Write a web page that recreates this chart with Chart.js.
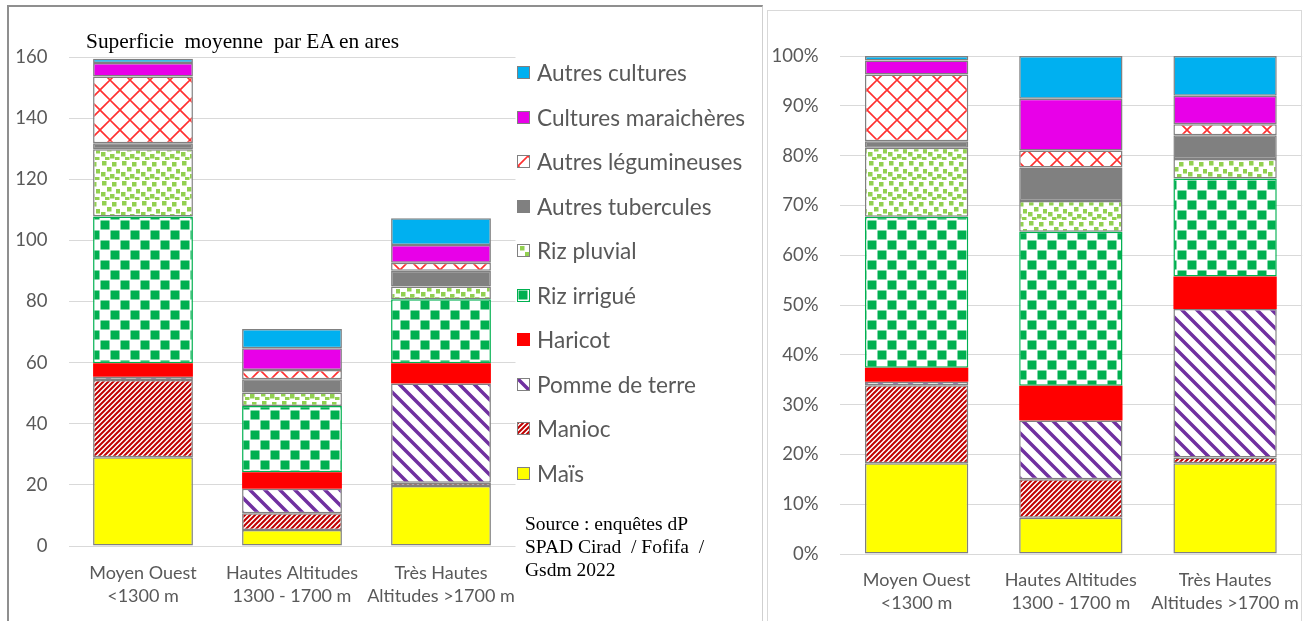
<!DOCTYPE html>
<html lang="fr">
<head>
<meta charset="UTF-8">
<title>Superficie moyenne par EA</title>
<script src="https://cdn.jsdelivr.net/npm/chart.js"></script>
<style>
  body { margin: 0; width: 1304px; height: 621px; overflow: hidden; background: #fff; position: relative; font-family: Lato, sans-serif; }
  .panel { position: absolute; box-sizing: border-box; }
  #panelLeft { left: 7px; top: 5px; width: 756px; height: 640px; border-left: 2px solid #8f8f8f; border-top: 2px solid #8f8f8f; border-right: 1px solid #d0d0d0; }
  #panelRight { left: 767px; top: 10px; width: 535px; height: 640px; border: 1px solid #d9d9d9; }
  canvas { position: absolute; top: 0; }
  #leftChart { left: 0; }
  #rightChart { left: 767px; }
  .note { position: absolute; font-family: 'Liberation Serif', serif; color: #000; white-space: pre; }
  #title { left: 86px; top: 30.5px; font-size: 21.4px; line-height: 21px; }
  #source { left: 525px; top: 512px; font-size: 19.5px; line-height: 23px; }
  .item { position: absolute; left: 517px; height: 44px; display: flex; align-items: center; font-size: 22.6px; color: #595959; white-space: nowrap; }
  .swatch { width: 13px; height: 13px; box-sizing: border-box; border: 1px solid #808080; margin-right: 7px; }
</style>
</head>
<body>
<div class="panel" id="panelLeft"></div>
<div class="panel" id="panelRight"></div>
<canvas id="leftChart" width="762" height="621"></canvas>
<canvas id="rightChart" width="537" height="621"></canvas>
<div class="note" id="title">Superficie  moyenne  par EA en ares</div>
<div class="note" id="source">Source : enquêtes dP
SPAD Cirad  / Fofifa  /
Gsdm 2022</div>
<div id="legend"></div>

<script>
  const categories = [['Moyen Ouest', '<1300 m'], ['Hautes Altitudes', '1300 - 1700 m'], ['Très Hautes', 'Altitudes >1700 m']];
  const seriesNames = ['Maïs', 'Manioc', 'Pomme de terre', 'Haricot', 'Riz irrigué', 'Riz pluvial',
    'Autres tubercules', 'Autres légumineuses', 'Cultures maraichères', 'Autres cultures'];

  // superficie moyenne par EA (ares)
  const aresMais = [29.0, 5.2, 19.6];
  const aresManioc = [25.3, 5.5, 1.1];
  const aresPomme = [1.1, 8.0, 32.5];
  const aresHaricot = [4.4, 5.4, 6.6];
  const aresRizIrrigue = [48.0, 21.7, 20.9];
  const aresRizPluvial = [22.0, 4.4, 4.2];
  const aresTubercules = [2.0, 4.4, 5.2];
  const aresLegumineuses = [21.8, 3.0, 2.6];
  const aresMaraicheres = [4.4, 7.1, 5.8];
  const aresAutres = [1.4, 6.3, 8.7];

  // part de la superficie (%)
  const pctMais = [18.2, 7.3, 18.2];
  const pctManioc = [15.7, 7.7, 1.2];
  const pctPomme = [0.7, 11.8, 29.8];
  const pctHaricot = [2.8, 7.0, 6.5];
  const pctRizIrrigue = [30.3, 30.9, 19.7];
  const pctRizPluvial = [13.9, 6.2, 3.9];
  const pctTubercules = [1.3, 6.7, 4.8];
  const pctLegumineuses = [13.4, 3.4, 2.2];
  const pctMaraicheres = [2.8, 10.4, 5.7];
  const pctAutres = [0.9, 8.6, 8.0];

  const aresTicks = [0, 20, 40, 60, 80, 100, 120, 140, 160];
  const pctTicks = [0, 10, 20, 30, 40, 50, 60, 70, 80, 90, 100];

  const aresSeries = [aresMais, aresManioc, aresPomme, aresHaricot, aresRizIrrigue, aresRizPluvial,
    aresTubercules, aresLegumineuses, aresMaraicheres, aresAutres];
  const pctSeries = [pctMais, pctManioc, pctPomme, pctHaricot, pctRizIrrigue, pctRizPluvial,
    pctTubercules, pctLegumineuses, pctMaraicheres, pctAutres];

  // pattern tiles (Excel-like hatches)
  function tile(size, paint) {
    const c = document.createElement('canvas');
    c.width = size; c.height = size;
    const g = c.getContext('2d');
    g.fillStyle = '#fff';
    g.fillRect(0, 0, size, size);
    paint(g, size);
    return c;
  }
  function lines(g, segs) {
    g.beginPath();
    segs.forEach(([x1, y1, x2, y2]) => { g.moveTo(x1, y1); g.lineTo(x2, y2); });
    g.stroke();
  }
  const tiles = {
    manioc: tile(5, (g, s) => {
      g.strokeStyle = '#c00000'; g.lineWidth = 2;
      lines(g, [[-s, 2 * s, 2 * s, -s], [-2 * s, 2 * s, s, -s], [0, 2 * s, 3 * s, -s]]);
    }),
    pomme: tile(15, (g, s) => {
      g.strokeStyle = '#7030a0'; g.lineWidth = 3.5;
      lines(g, [[-s, -s, 2 * s, 2 * s], [-2 * s, -s, s, 2 * s], [0, -s, 3 * s, 2 * s]]);
    }),
    rizIrrigue: tile(20, (g) => {
      g.fillStyle = '#00b050';
      g.fillRect(0.5, 0.5, 9, 9);
      g.fillRect(10.5, 10.5, 9, 9);
    }),
    rizPluvial: tile(20, (g) => {
      g.fillStyle = '#92d050';
      [[2, 1], [12, 2], [7, 7], [16, 9], [1, 12], [10, 14], [5, 17], [15, 17]]
        .forEach(([x, y]) => g.fillRect(x, y, 4.5, 4.5));
    }),
    legumineuses: tile(20, (g) => {
      g.strokeStyle = '#ff3030'; g.lineWidth = 1.6;
      lines(g, [[-10, 20, 20, -10], [0, 30, 30, 0], [0, -10, 30, 20], [-10, 0, 20, 30]]);
    })
  };
  const patternCtx = document.createElement('canvas').getContext('2d');
  const pat = (t) => patternCtx.createPattern(t, 'repeat');

  const styles = [
    { fill: '#ffff00', border: '#808080', width: 1.5 },
    { fill: pat(tiles.manioc), border: '#808080', width: 1.5, tile: tiles.manioc },
    { fill: pat(tiles.pomme), border: '#808080', width: 1.5, tile: tiles.pomme },
    { fill: '#ff0000', border: '#ff0000', width: 0 },
    { fill: pat(tiles.rizIrrigue), border: '#00b050', width: 1.5, tile: tiles.rizIrrigue },
    { fill: pat(tiles.rizPluvial), border: '#808080', width: 1.5, tile: tiles.rizPluvial },
    { fill: '#808080', border: '#808080', width: 1.5 },
    { fill: pat(tiles.legumineuses), border: '#808080', width: 1.5, tile: tiles.legumineuses },
    { fill: '#e800e8', border: '#808080', width: 1.5 },
    { fill: '#00b0f0', border: '#808080', width: 1.5 }
  ];

  function buildDatasets(valueArrays, barPct) {
    return seriesNames.map((name, i) => ({
      label: name,
      data: valueArrays[i],
      backgroundColor: styles[i].fill,
      borderColor: styles[i].border,
      borderWidth: styles[i].width,
      borderSkipped: false,
      categoryPercentage: 1,
      barPercentage: barPct
    }));
  }

  Chart.defaults.font.family = 'Lato';
  Chart.defaults.color = '#595959';

  function options(ticks, fmt, yWidth, pad, xHeight, xPad) {
    return {
      responsive: false,
      animation: false,
      layout: { padding: pad },
      plugins: { legend: { display: false }, tooltip: { enabled: false } },
      scales: {
        x: {
          stacked: true,
          grid: { display: false, drawTicks: false },
          border: { display: false },
          ticks: { color: '#595959', font: { size: 18, lineHeight: 1.28 }, padding: xPad, maxRotation: 0, autoSkip: false },
          afterFit: (s) => { s.height = xHeight; s.paddingLeft = 0; s.paddingRight = 0; }
        },
        y: {
          stacked: true,
          min: ticks[0],
          max: ticks[ticks.length - 1],
          ticks: { stepSize: ticks[1] - ticks[0], color: '#595959', font: { size: 18.5 }, padding: 21, callback: fmt },
          grid: { color: '#d9d9d9', drawTicks: false },
          border: { display: false },
          afterFit: (s) => { s.width = yWidth; }
        }
      }
    };
  }

  new Chart(document.getElementById('leftChart'), {
    type: 'bar',
    data: { labels: categories, datasets: buildDatasets(aresSeries, 0.67) },
    options: options(aresTicks, (v) => v, 68.5, { left: 0, right: 246.5, top: 57, bottom: 5 }, 70, 15.5)
  });

  new Chart(document.getElementById('rightChart'), {
    type: 'bar',
    data: { labels: categories, datasets: buildDatasets(pctSeries, 0.67) },
    options: options(pctTicks, (v) => v + '%', 72.5, { left: 0, right: 1.8, top: 56, bottom: 5 }, 62, 14.5)
  });

  // legend, top to bottom = reverse stacking order
  const legend = document.getElementById('legend');
  seriesNames.slice().reverse().forEach((name, k) => {
    const i = seriesNames.length - 1 - k;
    const st = styles[i];
    const item = document.createElement('div');
    item.className = 'item';
    item.style.top = (72.5 + k * 44.5 - 22) + 'px';
    const sw = document.createElement('div');
    sw.className = 'swatch';
    if (st.tile) sw.style.backgroundImage = 'url(' + st.tile.toDataURL() + ')';
    else sw.style.background = st.fill;
    if (st.width === 0) sw.style.borderColor = st.fill;
    else sw.style.borderColor = st.border;
    item.appendChild(sw);
    item.appendChild(document.createTextNode(name));
    legend.appendChild(item);
  });
</script>
</body>
</html>
